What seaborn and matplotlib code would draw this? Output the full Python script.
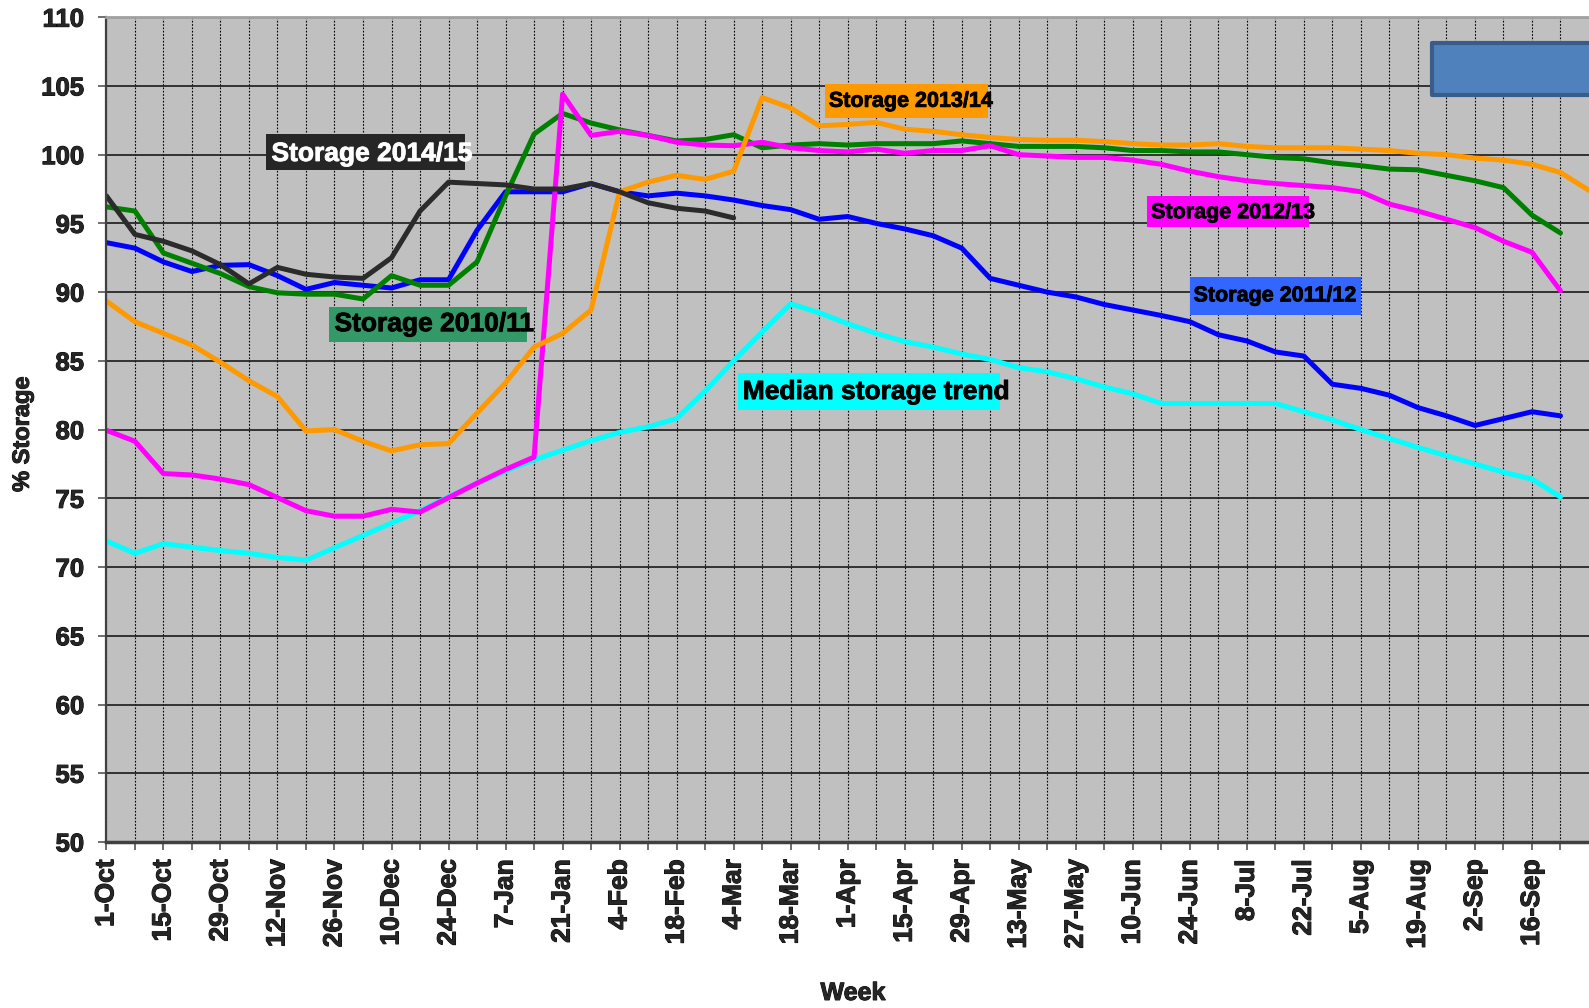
import numpy as np
import pandas as pd
import matplotlib
matplotlib.use("Agg")
import matplotlib.pyplot as plt
import matplotlib.patheffects as pe
from matplotlib.patches import Rectangle
import seaborn as sns

# ---- data: weekly % storage, week 0 = 1-Oct ----
week_labels = ["1-Oct", "15-Oct", "29-Oct", "12-Nov", "26-Nov", "10-Dec", "24-Dec",
               "7-Jan", "21-Jan", "4-Feb", "18-Feb", "4-Mar", "18-Mar", "1-Apr",
               "15-Apr", "29-Apr", "13-May", "27-May", "10-Jun", "24-Jun", "8-Jul",
               "22-Jul", "5-Aug", "19-Aug", "2-Sep", "16-Sep"]

median_trend = [71.9, 71.0, 71.7, 71.45, 71.2, 71.0, 70.7, 70.5, 71.4, 72.3,
                73.2, 74.1, 75.1, 76.1, 77.0, 77.8, 78.5, 79.2, 79.8, 80.2,
                80.8, 82.8, 85.0, 87.1, 89.15, 88.5, 87.7, 87.0, 86.4, 86.0,
                85.5, 85.1, 84.5, 84.2, 83.7, 83.1, 82.6, 81.9, 81.9, 81.9,
                81.9, 81.9, 81.3, 80.7, 80.0, 79.35, 78.7, 78.1, 77.5, 76.9,
                76.4, 75.1]

storage_2011_12 = [93.6, 93.2, 92.2, 91.5, 91.95, 92.0, 91.2, 90.2, 90.7, 90.5,
                   90.3, 90.9, 90.9, 94.5, 97.3, 97.3, 97.3, 97.9, 97.3, 97.0,
                   97.2, 97.0, 96.7, 96.3, 96.0, 95.3, 95.5, 95.0, 94.6, 94.1,
                   93.2, 91.0, 90.5, 90.0, 89.65, 89.1, 88.7, 88.3, 87.85, 86.9,
                   86.45, 85.65, 85.35, 83.3, 83.0, 82.5, 81.6, 81.0, 80.3, 80.8,
                   81.3, 81.0]

storage_2010_11 = [96.2, 95.9, 92.85, 92.1, 91.35, 90.4, 89.95, 89.85, 89.85, 89.5,
                   91.2, 90.5, 90.5, 92.2, 97.0, 101.5, 103.0, 102.3, 101.8, 101.4,
                   101.0, 101.1, 101.45, 100.5, 100.7, 100.8, 100.7, 100.8, 100.8, 100.8,
                   101.0, 100.8, 100.6, 100.6, 100.6, 100.5, 100.3, 100.3, 100.2, 100.2,
                   100.0, 99.8, 99.7, 99.4, 99.2, 98.95, 98.9, 98.5, 98.1, 97.6,
                   95.6, 94.3]

storage_2012_13 = [79.95, 79.15, 76.8, 76.7, 76.4, 76.0, 75.05, 74.1, 73.7, 73.7,
                   74.2, 74.0, 75.05, 76.1, 77.1, 78.0, 104.4, 101.4, 101.7, 101.4,
                   100.9, 100.7, 100.65, 100.9, 100.5, 100.3, 100.2, 100.4, 100.1, 100.3,
                   100.3, 100.65, 100.0, 99.9, 99.8, 99.8, 99.6, 99.3, 98.8, 98.4,
                   98.1, 97.9, 97.75, 97.6, 97.3, 96.4, 95.9, 95.3, 94.7, 93.7,
                   92.9, 90.1]

storage_2013_14 = [89.35, 87.85, 87.0, 86.15, 84.9, 83.55, 82.4, 79.9, 80.0, 79.15,
                   78.45, 78.9, 78.98, 81.2, 83.4, 86.0, 87.0, 88.7, 97.3, 98.0,
                   98.5, 98.2, 98.8, 104.15, 103.4, 102.1, 102.2, 102.35, 101.85, 101.7,
                   101.45, 101.25, 101.1, 101.05, 101.05, 100.95, 100.8, 100.7, 100.7, 100.8,
                   100.6, 100.5, 100.5, 100.5, 100.4, 100.3, 100.1, 100.0, 99.75, 99.6,
                   99.3, 98.7, 97.4]

storage_2014_15 = [97.0, 94.2, 93.7, 93.0, 92.0, 90.6, 91.8, 91.3, 91.1, 91.0,
                   92.5, 95.9, 98.0, 97.9, 97.8, 97.5, 97.5, 97.9, 97.3, 96.5,
                   96.1, 95.9, 95.4]

series_names = ["Median storage trend", "Storage 2011/12", "Storage 2010/11",
                "Storage 2012/13", "Storage 2013/14", "Storage 2014/15"]
series_values = [median_trend, storage_2011_12, storage_2010_11,
                 storage_2012_13, storage_2013_14, storage_2014_15]
line_colors = ["#00ffff", "#0000ff", "#008000", "#ff00ff", "#ff9900", "#2b2b2b"]

df = pd.concat(
    [pd.DataFrame({"week": np.arange(len(v)), "storage": v, "season": n})
     for n, v in zip(series_names, series_values)],
    ignore_index=True,
)

# ---- style ----
sns.set_style("white", {"axes.facecolor": "#c0c0c0"})
plt.rcParams["font.family"] = ["Liberation Sans", "DejaVu Sans"]
plt.rcParams["font.weight"] = "bold"

fig = plt.figure(figsize=(15.89, 10.08), dpi=100)
ax = fig.add_axes([0.06696, 0.16468, 0.93304, 0.81826])

sns.lineplot(data=df, x="week", y="storage", hue="season", hue_order=series_names,
             palette=dict(zip(series_names, line_colors)), linewidth=3.6,
             estimator=None, sort=False, legend=False, ax=ax)
for ln in ax.lines:
    ln.set_solid_capstyle("round")
    ln.set_solid_joinstyle("round")

ax.set_xlim(0, 52)
ax.set_ylim(50, 110)
ax.set_yticks(np.arange(50, 111, 5))
weeks = np.arange(0, 52)
ax.set_xticks(weeks)
ax.set_xticklabels([week_labels[i // 2] if i % 2 == 0 else "" for i in weeks])

ax.set_axisbelow(True)
ax.yaxis.grid(True, color="#1a1a1a", linewidth=1.2, linestyle="-")
ax.xaxis.grid(True, color="#000000", linewidth=0.8, linestyle=(0, (1.5, 1.5)))

ax.tick_params(axis="x", direction="out", length=5.5, width=1.2, color="#555555",
               labelsize=19, rotation=90, pad=7, bottom=True)
ax.tick_params(axis="y", direction="out", length=6, width=1.2, color="#555555",
               labelsize=18.5, pad=10, left=True)
bold_edge = [pe.withStroke(linewidth=0.7, foreground="black")]
for lab in ax.get_xticklabels() + ax.get_yticklabels():
    lab.set_fontweight("bold")
    lab.set_path_effects(bold_edge)

ax.spines["left"].set_color("#404040")
ax.spines["left"].set_linewidth(1.6)
ax.spines["bottom"].set_color("#404040")
ax.spines["bottom"].set_linewidth(2.5)
ax.spines["top"].set_color("#a0a0a0")
ax.spines["top"].set_linewidth(2)
ax.spines["right"].set_visible(False)

ax.set_xlabel("Week", fontsize=18, fontweight="bold", va="center")
ax.xaxis.set_label_coords(0.5036, (842 - 993) / 825.0)
ax.set_ylabel("% Storage", fontsize=17, fontweight="bold", va="center")
ax.yaxis.set_label_coords(-0.0567, 0.4945)
ax.xaxis.label.set_path_effects(bold_edge)
ax.yaxis.label.set_path_effects(bold_edge)

# ---- series captions on coloured boxes ----
captions = [
    # text, box x0, x1, y0, y1, text x, text y, face, text colour, size
    ("Storage 2014/15", 5.61, 12.58, 98.87, 101.53, 5.79, 100.05, "#262626", "white", 19),
    ("Storage 2010/11", 7.82, 14.75, 86.34, 88.93, 8.00, 87.67, "#339966", "black", 19),
    ("Storage 2013/14", 25.20, 30.92, 102.70, 105.14, 25.34, 103.88, "#ff9900", "black", 15.5),
    ("Median storage trend", 22.14, 31.34, 81.41, 84.13, 22.32, 82.73, "#00ffff", "black", 19),
    ("Storage 2012/13", 36.50, 42.18, 94.75, 96.96, 36.64, 95.78, "#ff00ff", "black", 15.5),
    ("Storage 2011/12", 37.99, 44.00, 88.33, 91.13, 38.13, 89.73, "#3366ff", "black", 15.5),
]
for txt, x0, x1, y0, y1, tx, ty, fc, tc, fs in captions:
    ax.add_patch(Rectangle((x0, y0), x1 - x0, y1 - y0, facecolor=fc,
                           edgecolor="none", zorder=5))
    t = ax.text(tx, ty, txt, ha="left", va="center", color=tc, fontsize=fs,
                fontweight="bold", zorder=6)
    t.set_path_effects([pe.withStroke(linewidth=0.6, foreground=tc)])

# empty blue shape in the upper right corner
ax.add_patch(Rectangle((46.48, 104.34), 7.0, 3.81, facecolor="#4f81bd",
                       edgecolor="#385d8a", linewidth=3, joinstyle="round", zorder=5))

fig.savefig("out.png", dpi=100)
